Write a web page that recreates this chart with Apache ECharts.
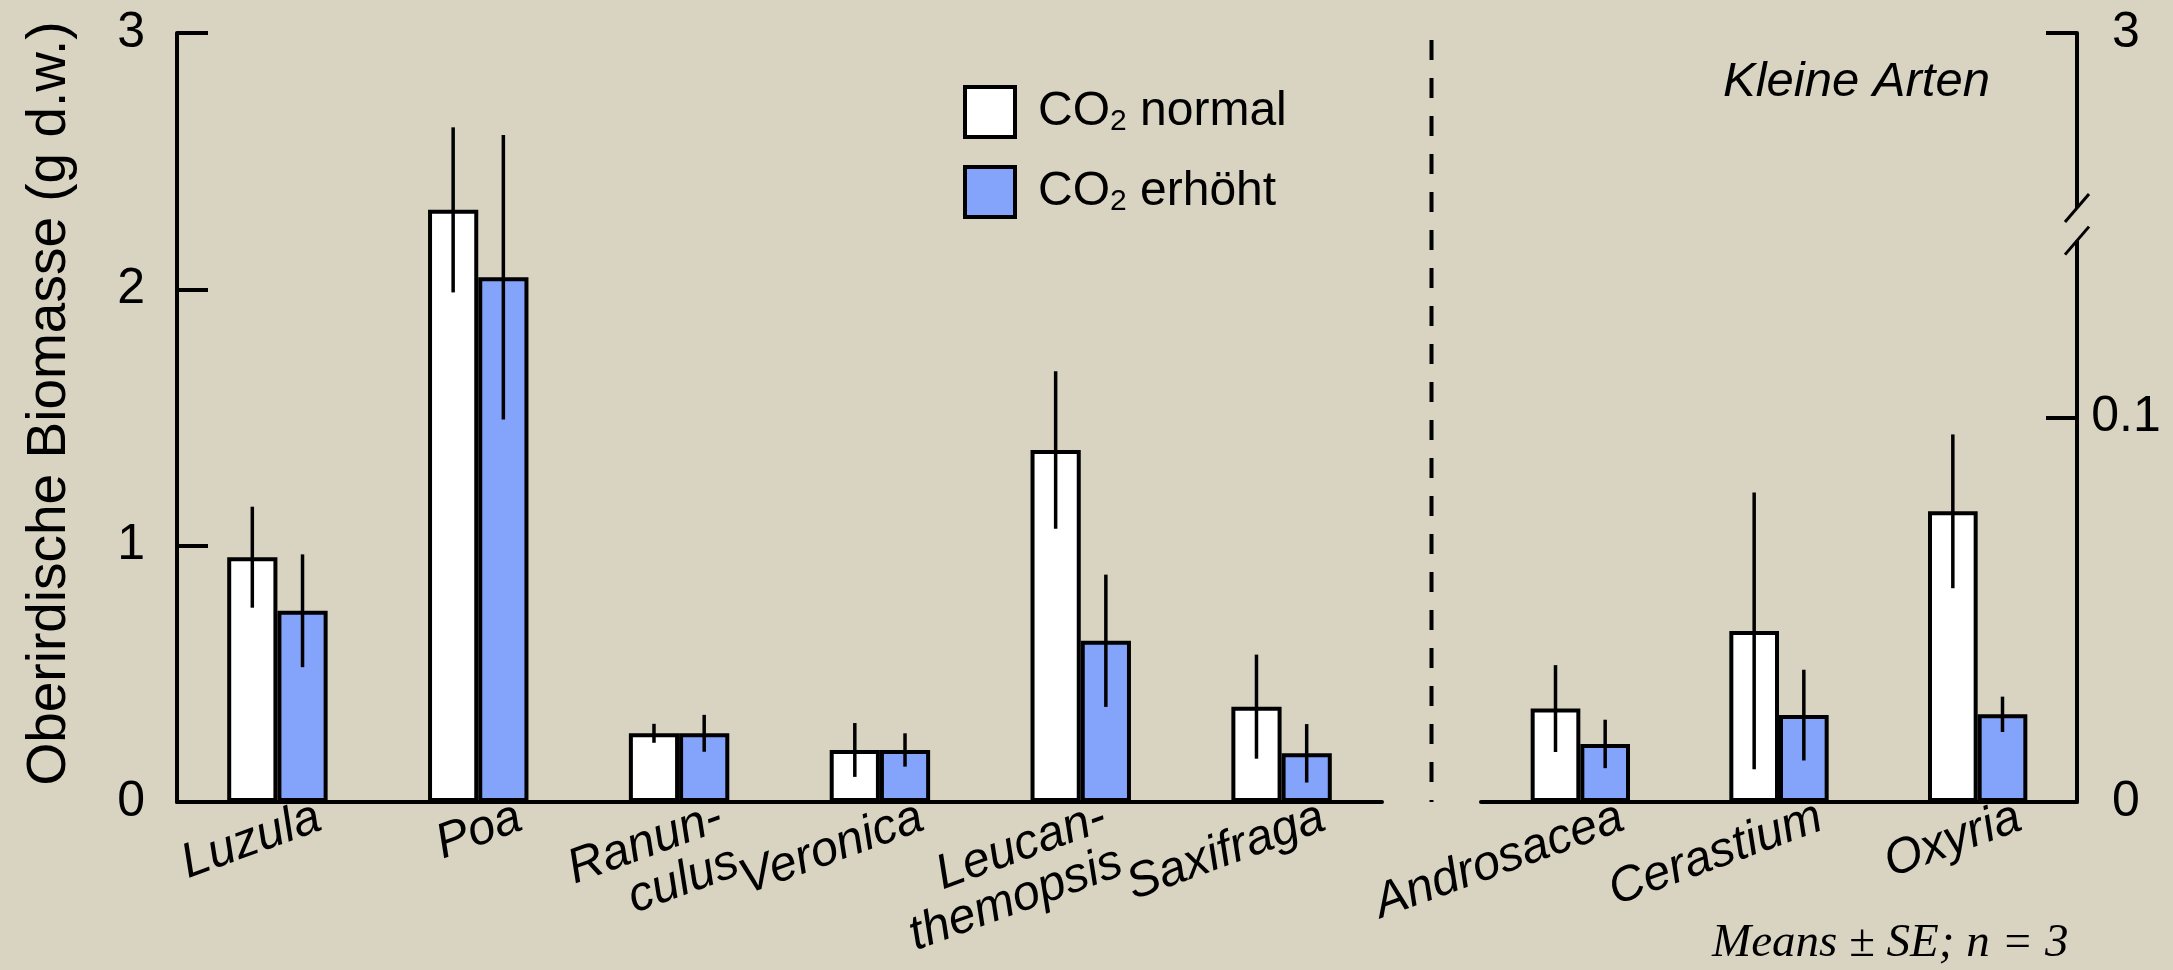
<!DOCTYPE html>
<html>
<head>
<meta charset="utf-8">
<script src="https://cdn.jsdelivr.net/npm/echarts@6/dist/echarts.min.js"></script>
<style>
  html, body { margin: 0; padding: 0; background: #d9d3c1; }
  #main { width: 2173px; height: 970px; }
</style>
</head>
<body>
<div id="main"></div>
<script>
// grosse Arten (linke Achse, g)
var bigSpecies = ['Luzula', 'Poa', 'Ranun-\nculus', 'Veronica', 'Leucan-\nthemopsis', 'Saxifraga'];
var bigNormal = [0.955, 2.31, 0.268, 0.203, 1.373, 0.372];
var bigNormalSE = [0.197, 0.322, 0.037, 0.105, 0.307, 0.203];
var bigHigh = [0.746, 2.047, 0.268, 0.203, 0.629, 0.19];
var bigHighSE = [0.22, 0.555, 0.072, 0.065, 0.258, 0.114];

// kleine Arten (rechte Achse, gebrochen)
var smallSpecies = ['Androsacea', 'Cerastium', 'Oxyria'];
var smallNormal = [0.0243, 0.0445, 0.0756];
var smallNormalSE = [0.0113, 0.036, 0.020];
var smallHigh = [0.0151, 0.0226, 0.0228];
var smallHighSE = [0.0063, 0.0118, 0.0046];

var leftTicks = ['0', '1', '2', '3'];
var rightTicks = ['0', '0.1', '3'];
var axisBreak = [0.146, 0.1545];

var FONT = '"Liberation Sans", Arial, Helvetica, sans-serif';
var BG = '#d9d3c1';
var BLUE = '#84a4fb';
var barFrac = 0.25;

var g0 = { left: 177, top: 33, width: 1205, height: 769 };
var g1 = { left: 1481, top: 33, width: 596, height: 769 };

// Beschriftung etwas nach links fuer den langen Namen
var labelShift = { 'Leucan-\nthemopsis': -18 };

var chart = echarts.init(document.getElementById('main'));

function errData(cats, means, ses, k) {
    return means.map(function (m, i) { return [cats[i], m, ses[i], k]; });
}

function renderErr(params, api) {
    var c = api.value(0);
    var m = api.value(1), s = api.value(2), k = api.value(3);
    var band = api.size([1, 0])[0];
    var dx = (k === 0 ? -1 : 1) * band * barFrac / 2;
    var top = api.coord([c, m + s]);
    var bot = api.coord([c, m - s]);
    return {
        type: 'line',
        shape: { x1: top[0] + dx, y1: top[1], x2: top[0] + dx, y2: bot[1] },
        style: { stroke: '#000', lineWidth: 3.5 }
    };
}

function barSeries(name, gi, values, color) {
    return {
        name: name,
        type: 'bar',
        xAxisIndex: gi,
        yAxisIndex: gi,
        data: values,
        barWidth: (barFrac * 100) + '%',
        barGap: '0%',
        itemStyle: { color: color, borderColor: '#000', borderWidth: 4 }
    };
}

function errSeries(gi, cats, means, ses, k) {
    return {
        type: 'custom',
        xAxisIndex: gi,
        yAxisIndex: gi,
        data: errData(cats, means, ses, k),
        renderItem: renderErr,
        z: 5,
        silent: true
    };
}

function labelSeries(gi, cats) {
    return {
        type: 'scatter',
        xAxisIndex: gi,
        yAxisIndex: gi,
        data: cats.map(function (c) {
            return { value: [c, 0], label: { position: [34 + (labelShift[c] || 0), -8] } };
        }),
        symbolSize: 1,
        itemStyle: { color: 'rgba(0,0,0,0)', opacity: 1 },
        silent: true,
        label: {
            show: true,
            formatter: function (p) { return p.value[0]; },
            position: [34, -8],
            align: 'right',
            verticalAlign: 'top',
            rotate: 20,
            color: '#000',
            opacity: 1,
            fontFamily: FONT,
            fontStyle: 'italic',
            fontSize: 49,
            lineHeight: 48
        }
    };
}

var axisLineStyle = { color: '#000', width: 4 };

option = {
    backgroundColor: BG,
    animation: false,
    textStyle: { fontFamily: FONT },
    grid: [g0, g1],
    title: [
        {
            text: 'Kleine Arten', left: 1723, top: 58, padding: 0,
            textStyle: { fontFamily: FONT, fontStyle: 'italic', fontWeight: 'normal', fontSize: 49, color: '#000' }
        },
        {
            text: 'Means \u00b1 SE; n = 3', left: 1712, top: 920, padding: 0,
            textStyle: { fontFamily: '"Liberation Serif", "Times New Roman", serif', fontStyle: 'italic', fontWeight: 'normal', fontSize: 47, color: '#000' }
        }
    ],
    legend: {
        data: ['CO\u2082 normal', 'CO\u2082 erh\u00f6ht'],
        orient: 'vertical',
        left: 958,
        top: 80,
        icon: 'rect',
        itemWidth: 50,
        itemHeight: 50,
        itemGap: 26,
        itemStyle: { borderColor: '#000', borderWidth: 4 },
        selectedMode: false,
        formatter: function (name) {
            return '{c|CO}{s|2}{t| ' + name.split(' ')[1] + '}';
        },
        textStyle: {
            color: '#000',
            rich: {
                c: { fontSize: 48, fontFamily: FONT, color: '#000', padding: [0, 0, 0, 18], lineHeight: 50 },
                s: { fontSize: 30, fontFamily: FONT, color: '#000', verticalAlign: 'bottom', lineHeight: 50 },
                t: { fontSize: 48, fontFamily: FONT, color: '#000', lineHeight: 50 }
            }
        }
    },
    xAxis: [
        {
            type: 'category', gridIndex: 0, data: bigSpecies,
            axisLine: { lineStyle: axisLineStyle }, axisTick: { show: false }, axisLabel: { show: false }
        },
        {
            type: 'category', gridIndex: 1, data: smallSpecies,
            axisLine: { lineStyle: axisLineStyle }, axisTick: { show: false }, axisLabel: { show: false }
        }
    ],
    yAxis: [
        {
            type: 'value', gridIndex: 0, min: 0, max: 3, interval: 1,
            axisLine: { show: true, lineStyle: axisLineStyle },
            axisTick: { show: true, inside: true, length: 31, lineStyle: axisLineStyle },
            axisLabel: {
                color: '#000', fontSize: 50, fontFamily: FONT, margin: 32,
                formatter: function (v, i) { return leftTicks[i]; }
            },
            splitLine: { show: false },
            name: 'Oberirdische Biomasse (g d.w.)',
            nameLocation: 'middle',
            nameGap: 100,
            nameTextStyle: { color: '#000', fontSize: 55, fontFamily: FONT, padding: [0, 0, 0, 28] }
        },
        {
            type: 'value', gridIndex: 1, position: 'right', min: 0, max: 0.2, interval: 0.1,
            axisLine: { show: true, lineStyle: axisLineStyle },
            axisTick: { show: true, inside: true, length: 31, lineStyle: axisLineStyle },
            axisLabel: {
                color: '#000', fontSize: 50, fontFamily: FONT, margin: 49, align: 'center',
                formatter: function (v, i) { return rightTicks[i]; }
            },
            splitLine: { show: false }
        }
    ],
    series: [
        barSeries('CO\u2082 normal', 0, bigNormal, '#ffffff'),
        barSeries('CO\u2082 erh\u00f6ht', 0, bigHigh, BLUE),
        barSeries('CO\u2082 normal', 1, smallNormal, '#ffffff'),
        barSeries('CO\u2082 erh\u00f6ht', 1, smallHigh, BLUE),
        errSeries(0, bigSpecies, bigNormal, bigNormalSE, 0),
        errSeries(0, bigSpecies, bigHigh, bigHighSE, 1),
        errSeries(1, smallSpecies, smallNormal, smallNormalSE, 0),
        errSeries(1, smallSpecies, smallHigh, smallHighSE, 1),
        labelSeries(0, bigSpecies),
        labelSeries(1, smallSpecies)
    ]
};

chart.setOption(option);

// Trennlinie und Achsenbruch
var sepX = (g0.left + g0.width + g1.left) / 2;
var axisX = g1.left + g1.width;
var yLow = chart.convertToPixel({ yAxisIndex: 1 }, axisBreak[0]);
var yHigh = chart.convertToPixel({ yAxisIndex: 1 }, axisBreak[1]);
var yZero = chart.convertToPixel({ yAxisIndex: 1 }, 0);

chart.setOption({
    graphic: [
        {
            type: 'line', z: 10,
            shape: { x1: sepX, y1: 40, x2: sepX, y2: yZero },
            style: { stroke: '#000', lineWidth: 4, lineDash: [20, 18] }
        },
        {
            type: 'rect', z: 10,
            shape: { x: axisX - 5, y: yHigh, width: 10, height: yLow - yHigh },
            style: { fill: BG }
        },
        {
            type: 'line', z: 11,
            shape: { x1: axisX - 12, y1: yHigh + 14, x2: axisX + 12, y2: yHigh - 14 },
            style: { stroke: '#000', lineWidth: 3 }
        },
        {
            type: 'line', z: 11,
            shape: { x1: axisX - 12, y1: yLow + 14, x2: axisX + 12, y2: yLow - 14 },
            style: { stroke: '#000', lineWidth: 3 }
        }
    ]
});
</script>
</body>
</html>
